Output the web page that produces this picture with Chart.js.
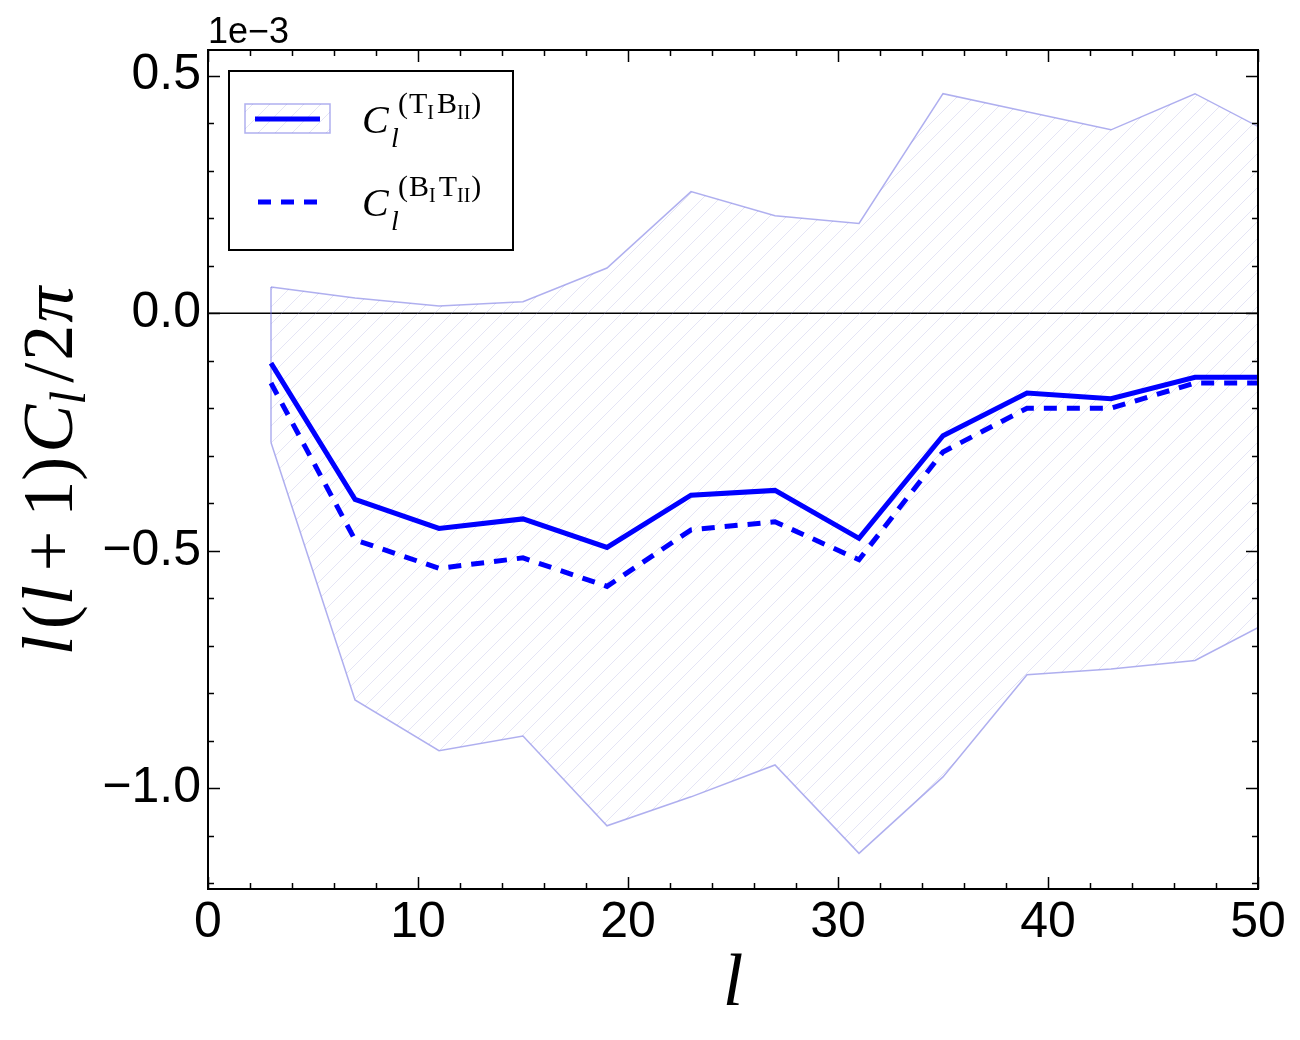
<!DOCTYPE html>
<html>
<head>
<meta charset="utf-8">
<script src="https://cdn.jsdelivr.net/npm/chart.js@4.4.0/dist/chart.umd.min.js"></script>
<style>
  body { margin: 0; background: #fff; }
  canvas { display: block; }
</style>
</head>
<body>
<canvas id="chart" width="1300" height="1040"></canvas>
<script>
// Multipole bins (l) and spectra, values in units of 1e-3
const ells = [3, 7, 11, 15, 19, 23, 27, 31, 35, 39, 43, 47, 51];
const tbValues = [-0.105, -0.392, -0.453, -0.433, -0.493, -0.383, -0.373, -0.474, -0.258, -0.168, -0.180, -0.135, -0.135];
const btValues = [-0.147, -0.477, -0.537, -0.515, -0.575, -0.456, -0.439, -0.519, -0.292, -0.200, -0.200, -0.147, -0.147];
const bandUpper = [0.055, 0.032, 0.015, 0.024, 0.095, 0.256, 0.205, 0.189, 0.462, 0.424, 0.386, 0.462, 0.370];
const bandLower = [-0.272, -0.814, -0.921, -0.890, -1.079, -1.018, -0.951, -1.137, -0.976, -0.761, -0.749, -0.731, -0.639];

// Axis ticks
const xTicks = [0, 10, 20, 30, 40, 50];
const yTicks = [-1.0, -0.5, 0.0, 0.5];

const BLUE = '#0000ff';
const BAND_EDGE = 'rgba(110, 110, 225, 0.55)';
const SANS = "'Liberation Sans', Arial, sans-serif";
const SERIF = "'Liberation Serif', 'Times New Roman', serif";

// Diagonal hatch pattern for the band
function makeHatch() {
  const size = 17;
  const c = document.createElement('canvas');
  c.width = size;
  c.height = size;
  const g = c.getContext('2d');
  g.strokeStyle = 'rgba(150, 150, 215, 0.25)';
  g.lineWidth = 1;
  g.beginPath();
  g.moveTo(0, size);
  g.lineTo(size, 0);
  g.moveTo(-2, 2);
  g.lineTo(2, -2);
  g.moveTo(size - 2, size + 2);
  g.lineTo(size + 2, size - 2);
  g.stroke();
  return g.createPattern(c, 'repeat');
}
const hatch = makeHatch();

const toPoints = (ys) => ells.map((l, i) => ({ x: l, y: ys[i] }));

// Draw a sequence of text runs, returns the end x
function drawRuns(ctx, x, y, runs) {
  ctx.textAlign = 'left';
  ctx.textBaseline = 'alphabetic';
  for (const r of runs) {
    ctx.font = r.font;
    ctx.fillText(r.t, x + (r.dx || 0), y + (r.dy || 0));
    x += ctx.measureText(r.t).width + (r.dx || 0) + (r.after || 0);
  }
  return x;
}
function runsWidth(ctx, runs) {
  let w = 0;
  for (const r of runs) {
    ctx.font = r.font;
    w += ctx.measureText(r.t).width + (r.dx || 0) + (r.after || 0);
  }
  return w;
}

// Frame, zero line and inward ticks on all four sides
const framePlugin = {
  id: 'frame',
  beforeDatasetsDraw(chart) {
    const { ctx, chartArea: a, scales: { y } } = chart;
    const y0 = y.getPixelForValue(0);
    ctx.save();
    ctx.strokeStyle = '#000';
    ctx.lineWidth = 1.5;
    ctx.beginPath();
    ctx.moveTo(a.left, y0);
    ctx.lineTo(a.right, y0);
    ctx.stroke();
    ctx.restore();
  },
  afterDraw(chart) {
    const { ctx, chartArea: a, scales: { x, y } } = chart;
    ctx.save();
    ctx.strokeStyle = '#000';
    ctx.lineWidth = 1.5;
    ctx.beginPath();
    for (let v = 0; v <= 50; v += 2) {
      const px = Math.round(x.getPixelForValue(v)) + 0.5;
      const len = v % 10 === 0 ? 12 : 6;
      ctx.moveTo(px, a.bottom); ctx.lineTo(px, a.bottom - len);
      ctx.moveTo(px, a.top); ctx.lineTo(px, a.top + len);
    }
    for (let k = -12; k <= 5; k++) {
      const v = k / 10;
      const py = Math.round(y.getPixelForValue(v)) + 0.5;
      const len = k % 5 === 0 ? 12 : 6;
      ctx.moveTo(a.left, py); ctx.lineTo(a.left + len, py);
      ctx.moveTo(a.right, py); ctx.lineTo(a.right - len, py);
    }
    ctx.stroke();
    ctx.lineWidth = 2;
    ctx.strokeRect(a.left, a.top, a.right - a.left, a.bottom - a.top);
    ctx.restore();
  }
};

// Axis titles, offset label and legend (math text)
const textPlugin = {
  id: 'texts',
  afterDraw(chart) {
    const { ctx, chartArea: a } = chart;
    ctx.save();
    ctx.fillStyle = '#000';

    // offset text
    ctx.font = '36px ' + SANS;
    ctx.textAlign = 'left';
    ctx.textBaseline = 'alphabetic';
    ctx.fillText('1e\u22123', a.left, 43);

    // x title
    ctx.font = 'italic 74px ' + SERIF;
    ctx.textAlign = 'center';
    ctx.fillText('l', (a.left + a.right) / 2, 1005);

    // y title, rotated
    const fs = 72;
    const it = 'italic ' + fs + 'px ' + SERIF;
    const up = fs + 'px ' + SERIF;
    const sub = 'italic ' + Math.round(fs * 0.7) + 'px ' + SERIF;
    const yRuns = [
      { t: 'l', font: it, after: 6 },
      { t: '(', font: up },
      { t: 'l', font: it, after: 14 },
      { t: '+', font: up, after: 14 },
      { t: '1', font: up },
      { t: ')', font: up, after: 4 },
      { t: 'C', font: it },
      { t: 'l', font: sub, dy: 13, after: 8 },
      { t: '/', font: up, after: 2 },
      { t: '2', font: up, after: 2 },
      { t: '\u03c0', font: it }
    ];
    const w = runsWidth(ctx, yRuns);
    ctx.translate(72, 471);
    ctx.rotate(-Math.PI / 2);
    drawRuns(ctx, -w / 2, 0, yRuns);
    ctx.setTransform(1, 0, 0, 1, 0, 0);

    // legend box
    ctx.fillStyle = '#fff';
    ctx.fillRect(229, 71, 284, 179);
    ctx.strokeStyle = '#000';
    ctx.lineWidth = 2;
    ctx.strokeRect(229, 71, 284, 179);

    // entry 1: band patch + solid line
    ctx.fillStyle = hatch;
    ctx.fillRect(245, 104, 85, 29);
    ctx.strokeStyle = BAND_EDGE;
    ctx.lineWidth = 1.5;
    ctx.strokeRect(245, 104, 85, 29);
    ctx.strokeStyle = BLUE;
    ctx.lineWidth = 5;
    ctx.beginPath();
    ctx.moveTo(255, 119); ctx.lineTo(320, 119);
    ctx.stroke();

    // entry 2: dashed line
    ctx.setLineDash([13, 10]);
    ctx.beginPath();
    ctx.moveTo(258, 202); ctx.lineTo(317, 202);
    ctx.stroke();
    ctx.setLineDash([]);

    ctx.fillStyle = '#000';
    const labelRuns = (a1, a2) => [
      { t: '(', font: '30px ' + SERIF, after: 1 },
      { t: a1, font: '30px ' + SERIF },
      { t: 'I', font: '20px ' + SERIF, dy: 6, after: 3 },
      { t: a2, font: '30px ' + SERIF },
      { t: 'II', font: '20px ' + SERIF, dy: 6, after: 1 },
      { t: ')', font: '30px ' + SERIF }
    ];
    const legendLabel = (baseY, a1, a2) => {
      ctx.font = 'italic 40px ' + SERIF;
      ctx.fillText('C', 362, baseY);
      ctx.font = 'italic 28px ' + SERIF;
      ctx.fillText('l', 391, baseY + 14);
      drawRuns(ctx, 398, baseY - 20, labelRuns(a1, a2));
    };
    legendLabel(133, 'T', 'B');
    legendLabel(216, 'B', 'T');

    ctx.restore();
  }
};

new Chart(document.getElementById('chart'), {
  type: 'line',
  data: {
    datasets: [
      {
        label: 'band upper',
        data: toPoints(bandUpper),
        borderColor: BAND_EDGE,
        borderWidth: 1.5,
        backgroundColor: hatch,
        fill: '+1',
        pointRadius: 0,
        tension: 0,
        clip: 0,
        order: 3
      },
      {
        label: 'band lower',
        data: toPoints(bandLower),
        borderColor: BAND_EDGE,
        borderWidth: 1.5,
        fill: false,
        pointRadius: 0,
        tension: 0,
        clip: 0,
        order: 3
      },
      {
        label: 'band edge',
        data: [{ x: ells[0], y: bandUpper[0] }, { x: ells[0], y: bandLower[0] }],
        borderColor: BAND_EDGE,
        borderWidth: 1.5,
        fill: false,
        pointRadius: 0,
        clip: 0,
        order: 3
      },
      {
        label: 'TI BII',
        data: toPoints(tbValues),
        borderColor: BLUE,
        borderWidth: 5,
        fill: false,
        pointRadius: 0,
        tension: 0,
        clip: 0,
        order: 1
      },
      {
        label: 'BI TII',
        data: toPoints(btValues),
        borderColor: BLUE,
        borderWidth: 5,
        borderDash: [13, 10],
        fill: false,
        pointRadius: 0,
        tension: 0,
        clip: 0,
        order: 1
      }
    ]
  },
  options: {
    responsive: false,
    animation: false,
    layout: { padding: { top: 50, right: 42, left: 0, bottom: 0 } },
    plugins: {
      legend: { display: false },
      tooltip: { enabled: false }
    },
    scales: {
      x: {
        type: 'linear',
        min: 0,
        max: 50,
        afterBuildTicks: (s) => { s.ticks = xTicks.map(v => ({ value: v })); },
        afterFit: (s) => { s.height = 151; },
        grid: { display: false, drawTicks: false },
        border: { display: false },
        ticks: {
          color: '#000',
          padding: 4,
          maxRotation: 0,
          font: { family: SANS, size: 50 }
        }
      },
      y: {
        type: 'linear',
        min: -1.212,
        max: 0.554,
        afterBuildTicks: (s) => { s.ticks = yTicks.map(v => ({ value: v })); },
        afterFit: (s) => { s.width = 208; },
        grid: { display: false, drawTicks: false },
        border: { display: false },
        ticks: {
          color: '#000',
          padding: 7,
          font: { family: SANS, size: 50 },
          callback: (v) => (v < 0 ? '\u2212' : '') + Math.abs(v).toFixed(1)
        }
      }
    }
  },
  plugins: [framePlugin, textPlugin]
});
</script>
</body>
</html>
